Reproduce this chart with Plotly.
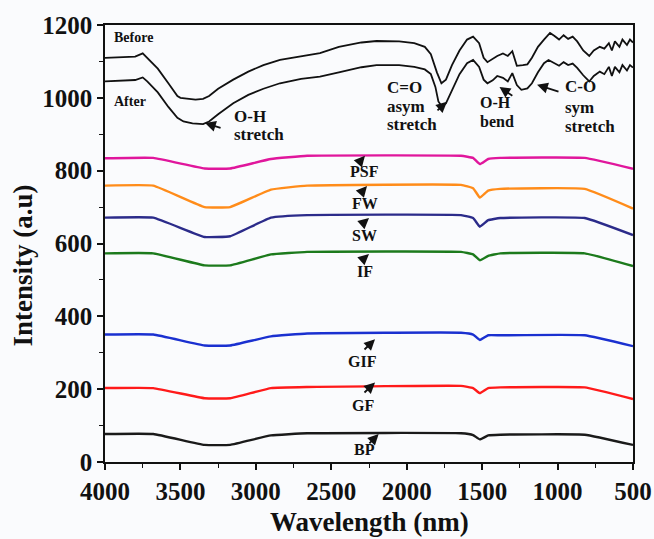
import plotly.graph_objects as go

# ---------------- data ----------------
before_wl = [4000, 3900, 3800, 3750, 3720, 3650, 3580, 3520, 3500, 3450, 3400, 3350, 3310, 3250, 3150,
             3050, 2950, 2840, 2700, 2575, 2450, 2300, 2200, 2050, 1950, 1880, 1840, 1800, 1770, 1740,
             1700, 1650, 1600, 1560, 1520, 1490, 1465, 1430, 1400, 1362, 1330, 1300, 1270, 1230, 1200,
             1170, 1130, 1090, 1050, 1020, 990, 960, 930, 900, 870, 830, 790, 760, 720, 690, 660, 640,
             620, 590, 570, 540, 520, 500]
before_val = [1110, 1112, 1113, 1122, 1110, 1080, 1040, 1005, 1000, 998, 995, 997, 1005, 1025, 1050,
              1072, 1090, 1104, 1115, 1123, 1140, 1152, 1156, 1155, 1150, 1140, 1120, 1070, 1040, 1050,
              1090, 1130, 1160, 1168, 1150, 1110, 1098, 1108, 1115, 1122, 1115, 1128, 1088, 1090, 1092,
              1110, 1140, 1160, 1178, 1170, 1160, 1172, 1162, 1168, 1155, 1130, 1115, 1130, 1140, 1135,
              1150, 1130, 1155, 1140, 1160, 1145, 1160, 1152]

after_wl = [4000, 3900, 3800, 3750, 3720, 3650, 3580, 3520, 3480, 3420, 3350, 3310, 3250, 3150, 3050,
            2950, 2840, 2700, 2575, 2450, 2300, 2200, 2050, 1950, 1880, 1840, 1810, 1790, 1770, 1740,
            1700, 1650, 1600, 1560, 1520, 1490, 1465, 1430, 1400, 1362, 1330, 1300, 1270, 1240, 1200,
            1170, 1130, 1090, 1060, 1020, 990, 960, 930, 900, 870, 830, 790, 760, 720, 690, 660, 640,
            620, 590, 570, 540, 520, 500]
after_val = [1045, 1048, 1049, 1056, 1045, 1015, 975, 945, 935, 930, 928, 935, 955, 985, 1008,
             1025, 1040, 1052, 1058, 1070, 1084, 1090, 1090, 1085, 1078, 1065, 1030, 990, 978, 985,
             1020, 1065, 1095, 1104, 1085, 1050, 1040, 1048, 1060, 1055, 1045, 1068, 1035, 1022, 1026,
             1040, 1070, 1095, 1104, 1095, 1088, 1098, 1090, 1094, 1082, 1062, 1045, 1060, 1072, 1065,
             1085, 1060, 1085, 1070, 1090, 1075, 1090, 1083]

sample_wl = [4000, 3680, 3340, 3170, 2900, 2660, 1640, 1560, 1515, 1460, 1380, 820, 500]
psf_val = [834, 835, 806, 806, 832, 841, 841, 835, 818, 832, 835, 835, 805]
fw_val = [759, 759, 700, 700, 748, 759, 761, 752, 726, 745, 750, 750, 696]
sw_val = [671, 671, 618, 620, 671, 678, 678, 670, 646, 664, 670, 670, 623]
if_val = [573, 573, 540, 540, 570, 577, 577, 570, 554, 566, 573, 573, 538]
gif_val = [350, 350, 320, 320, 345, 353, 355, 350, 335, 348, 348, 348, 318]
gf_val = [203, 203, 175, 175, 203, 206, 209, 203, 189, 203, 205, 205, 173]
bp_val = [77, 77, 47, 47, 73, 79, 79, 74, 62, 73, 75, 75, 47]

x_ticks = [4000, 3500, 3000, 2500, 2000, 1500, 1000, 500]
y_ticks = [0, 200, 400, 600, 800, 1000, 1200]

FONT = "Liberation Serif"
INK = "#111111"

fig = go.Figure()
fig.add_trace(go.Scatter(x=before_wl, y=before_val, mode="lines", line=dict(color=INK, width=1.8), name="Before"))
fig.add_trace(go.Scatter(x=after_wl, y=after_val, mode="lines", line=dict(color=INK, width=1.8), name="After"))

series = [
    ("PSF", psf_val, "#e0169c"),
    ("FW", fw_val, "#ff8c1a"),
    ("SW", sw_val, "#2b2b8a"),
    ("IF", if_val, "#1c7a1c"),
    ("GIF", gif_val, "#1a30d0"),
    ("GF", gf_val, "#ff1a1a"),
    ("BP", bp_val, "#1a1a1a"),
]
for name, vals, col in series:
    fig.add_trace(go.Scatter(x=sample_wl, y=vals, mode="lines",
                             line=dict(color=col, width=2.4, shape="spline", smoothing=0.3), name=name))

ann = []
def txt(x, y, s, size=17, xanchor="left"):
    ann.append(dict(x=x, y=y, xref="x", yref="y", text=s, showarrow=False, xanchor=xanchor, yanchor="middle",
                    font=dict(family=FONT, size=size, color=INK, weight="bold")))

def arrow(x, y, ax, ay):
    ann.append(dict(x=x, y=y, ax=ax, ay=ay, xref="x", yref="y", axref="x", ayref="y", text="",
                    showarrow=True, arrowhead=2, arrowsize=1.2, arrowwidth=1.8, arrowcolor=INK,
                    standoff=0, startstandoff=0))

txt(3954, 1166, "Before", size=14)
txt(3954, 989, "After", size=14)
# O-H stretch
txt(3158, 948, "O-H")
txt(3158, 898, "stretch")
arrow(3337, 931, 3224, 916)
# C=O asym stretch
txt(2144, 1029, "C=O")
txt(2144, 975, "asym")
txt(2144, 926, "stretch")
arrow(1733, 989, 1806, 962)
# O-H bend
txt(1527, 986, "O-H", size=16)
txt(1527, 934, "bend", size=16)
arrow(1385, 1030, 1290, 1003)
# C-O sym stretch
txt(964, 1030, "C-O")
txt(964, 973, "sym")
txt(964, 920, "stretch")
arrow(1136, 1036, 984, 1016)

labels = [
    ("PSF", 2277, 797, 2277, 841, 2323, 819),
    ("FW", 2277, 709, 2263, 758, 2310, 736),
    ("SW", 2277, 621, 2250, 670, 2310, 648),
    ("IF", 2277, 522, 2250, 571, 2310, 549),
    ("GIF", 2290, 277, 2210, 337, 2290, 305),
    ("GF", 2290, 154, 2210, 218, 2290, 187),
    ("BP", 2277, 33, 2186, 77, 2257, 47),
]
for s, tx, ty, hx, hy, sx, sy in labels:
    txt(tx, ty, s, size=16, xanchor="center")
    arrow(hx, hy, sx, sy)

# axis titles as paper annotations for exact placement
ann.append(dict(x=0.5, y=-0.137, xref="paper", yref="paper", text="Wavelength (nm)", showarrow=False,
                xanchor="center", yanchor="middle", font=dict(family=FONT, size=27, color=INK, weight="bold")))
ann.append(dict(x=-0.155, y=0.45, xref="paper", yref="paper", text="Intensity (a.u)", showarrow=False,
                textangle=-90, xanchor="center", yanchor="middle",
                font=dict(family=FONT, size=27, color=INK, weight="bold")))

fig.update_layout(
    width=654, height=539,
    margin=dict(l=105, r=21, t=25, b=77),
    paper_bgcolor="#fafbfd", plot_bgcolor="#fafbfd",
    showlegend=False,
    annotations=ann,
    font=dict(family=FONT, color=INK),
)
fig.update_xaxes(
    range=[4000, 500], tickvals=x_ticks, ticktext=[str(v) for v in x_ticks], automargin=False,
    showgrid=False, zeroline=False, showline=True, linecolor=INK, linewidth=1.5, mirror=True,
    ticks="outside", ticklen=6, tickwidth=1.5, tickcolor=INK,
    minor=dict(dtick=250, tick0=0, ticks="outside", ticklen=4, tickwidth=1.2, tickcolor=INK),
    tickfont=dict(family=FONT, size=25, color=INK, weight="bold"),
)
fig.update_yaxes(
    range=[0, 1200], tickvals=y_ticks, ticktext=[str(v) for v in y_ticks], automargin=False,
    showgrid=False, zeroline=False, showline=True, linecolor=INK, linewidth=1.5, mirror=True,
    ticks="outside", ticklen=6, tickwidth=1.5, tickcolor=INK,
    minor=dict(dtick=100, tick0=0, ticks="outside", ticklen=4, tickwidth=1.2, tickcolor=INK),
    tickfont=dict(family=FONT, size=25, color=INK, weight="bold"),
)
fig.write_html("out.html", config={"displayModeBar": False},
               post_script="document.body.style.margin='0';document.body.style.background='#fafbfd';")
